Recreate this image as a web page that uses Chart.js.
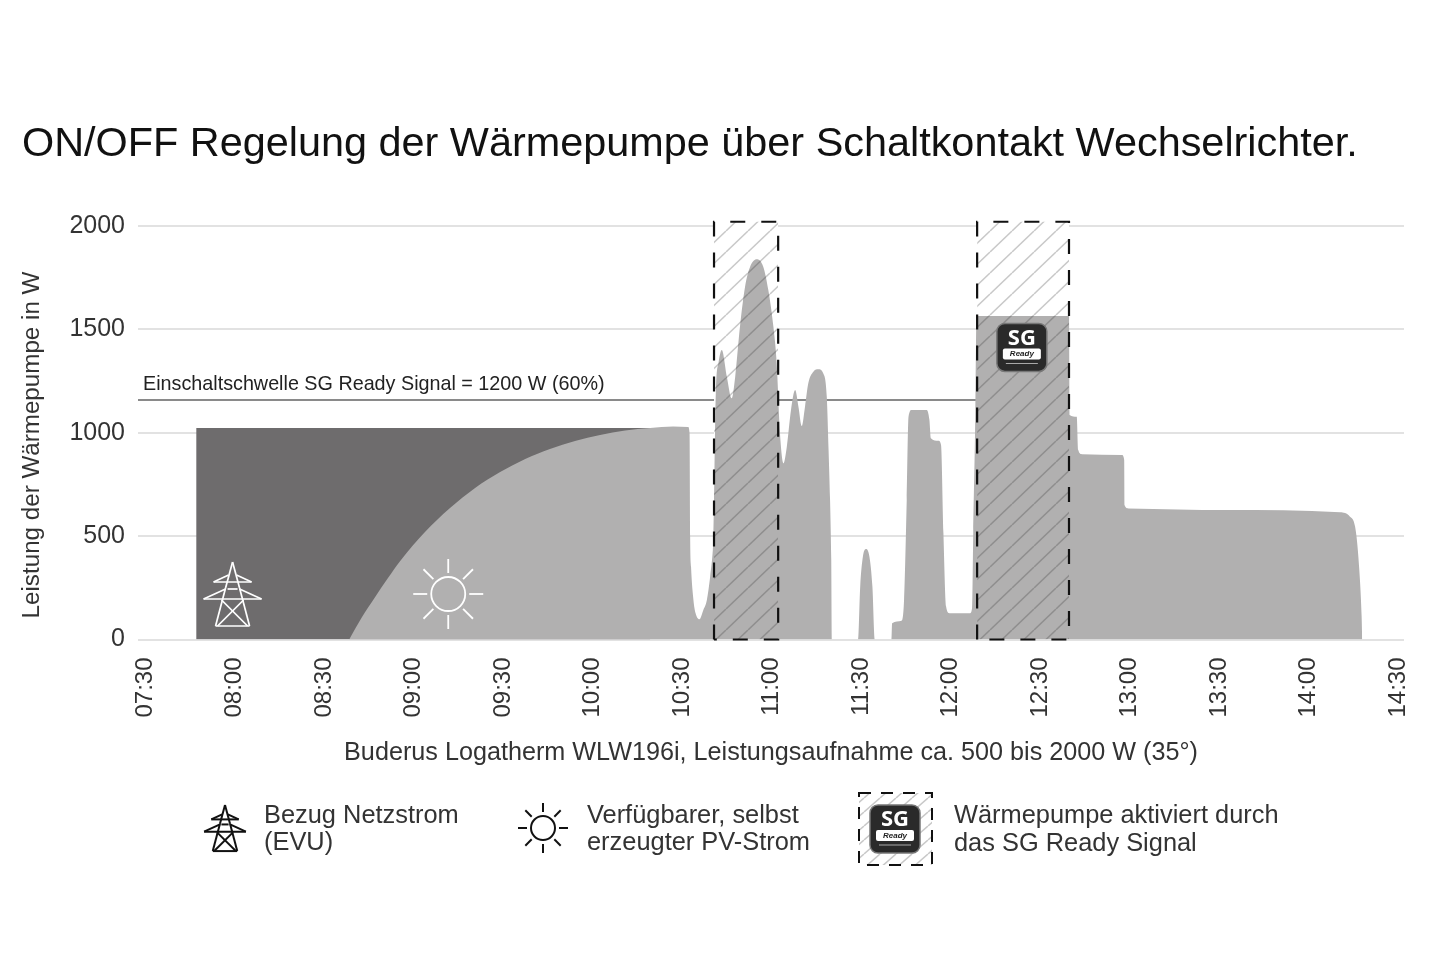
<!DOCTYPE html>
<html>
<head>
<meta charset="utf-8">
<style>
  body { margin: 0; background: #fff; }
</style>
<script src="https://cdn.jsdelivr.net/npm/chart.js@4"></script>
</head>
<body>
<canvas id="heatPumpChart" width="1440" height="960"></canvas>
<script>
// all times are minutes after midnight
const xTickValues = [450, 480, 510, 540, 570, 600, 630, 660, 690, 720, 750, 780, 810, 840, 870];
const xTickLabels = ['07:30', '08:00', '08:30', '09:00', '09:30', '10:00', '10:30', '11:00', '11:30', '12:00', '12:30', '13:00', '13:30', '14:00', '14:30'];
const yTickValues = [0, 500, 1000, 1500, 2000];

const gridTimes = [467.8, 620];
const gridWatts = [1023, 1023];

const powerTimes = [
  519.1, 523.4, 527.8, 532.1, 536.2, 544.5, 552.9, 561.3, 569.7, 578.1, 586.4, 594.8, 603.2,
  611.6, 620, 627.7, 632.7,
  633.2, 633.4, 633.7, 634.5, 635.2, 636.5, 637.8, 639, 640.1, 641, 641.3, 642, 642.9, 644,
  645.7, 647.3, 648.5, 650.1, 651.8, 653.5, 655.7, 657.9, 659.6, 661.3, 662.4, 663.5, 664.7,
  665.8, 667.2, 668.6, 669.7, 670.8, 671.9, 673, 674.7, 676.4, 678, 679.2, 679.8, 680.3,
  680.7, 681, 689.7, 690.4, 691.3, 692.4, 693.5, 694.5, 695.3, 700.9, 701.1, 704.3, 705.1,
  706, 706.6, 707.7, 712.7, 713.6, 714.1, 716.6, 717.5, 718.3, 719.2, 720.3, 727.2, 727.9,
  728.3, 728.9, 729.4, 760.4, 760.6, 763, 763.5, 764.7, 778.1, 778.9, 779, 780.3, 813.3,
  851.3, 854.6, 856.3, 857.4, 858.5, 858.7
];
const powerWatts = [
  0, 109, 206, 297, 380, 520, 636, 733, 810, 873, 921, 960, 989,
  1011, 1023, 1030, 1028,
  999, 496, 351, 191, 128, 98, 142, 191, 304, 433, 515, 1192, 1337, 1400,
  1271, 1166, 1271, 1513, 1706, 1803, 1839, 1803, 1690, 1513, 1337, 999, 852,
  932, 1110, 1207, 1126, 1032, 1126, 1239, 1295, 1307, 1287, 1173, 916, 675,
  384, 0, 0, 255, 400, 438, 400, 255, 0, 0, 78, 91, 191,
  675, 1077, 1110, 1110, 1062, 973, 961, 941, 515, 159, 127, 127, 152,
  515, 999, 1564, 1564, 1086, 1077, 916, 896, 892, 868, 650, 634, 626,
  615, 594, 546, 400, 110, 0
];

const thresholdTimes = [448.3, 729.6];
const thresholdWatts = [1158, 1158];

const sgWindowA = [641.4, 662.9];
const sgWindowB = [729.6, 760.4];
const sgWindowTop = 2020;

const toPoints = (xs, ys) => xs.map((x, i) => ({ x, y: ys[i] }));

function makeHatch(w, h, alpha) {
  const tile = document.createElement('canvas');
  tile.width = w;
  tile.height = h;
  const c = tile.getContext('2d');
  c.strokeStyle = `rgba(50,50,50,${alpha})`;
  c.lineWidth = 1.5;
  [-w, 0, w].forEach(dx => {
    c.beginPath();
    c.moveTo(dx, h);
    c.lineTo(dx + w, 0);
    c.stroke();
  });
  return c.createPattern(tile, 'repeat');
}
const hatch = makeHatch(22, 21, 0.27);
const legendHatch = makeHatch(16, 14, 0.27);

function windowDatasets(win) {
  const outline = [
    { x: win[0], y: 0 }, { x: win[0], y: sgWindowTop },
    { x: win[1], y: sgWindowTop }, { x: win[1], y: 0 }
  ];
  const base = { pointRadius: 0, tension: 0, clip: false };
  return [
    { ...base, data: outline, fill: 'origin', backgroundColor: '#fff', borderWidth: 0, order: 5 },
    { ...base, data: outline, fill: 'origin', backgroundColor: hatch, borderWidth: 0, order: 2 },
    {
      ...base, data: [...outline, outline[0]], fill: false, borderColor: '#111', borderWidth: 2.2,
      borderDash: [15, 16], order: 1
    }
  ];
}

function drawPylon(c, cx, top, k, color, lw) {
  c.save();
  c.translate(cx, top);
  c.scale(k, k);
  c.strokeStyle = color;
  c.lineWidth = lw / k;
  c.lineJoin = 'miter';
  const segs = [
    [0, 0, -7, 26], [0, 0, 7, 26], [-7, 26, -17, 64], [7, 26, 17, 64], [-17, 64, 17, 64],
    [-11, 38, 15, 64], [11, 38, -15, 64], [-19, 20, 19, 20], [-29, 37, 29, 37],
    [-19, 20, -4, 13], [19, 20, 4, 13], [-29, 37, -7, 27], [29, 37, 7, 27], [-5, 27, 5, 27]
  ];
  segs.forEach(s => {
    c.beginPath();
    c.moveTo(s[0], s[1]);
    c.lineTo(s[2], s[3]);
    c.stroke();
  });
  c.restore();
}

function drawSun(c, cx, cy, r, inner, outer, color, lw) {
  c.save();
  c.strokeStyle = color;
  c.lineWidth = lw;
  c.beginPath();
  c.arc(cx, cy, r, 0, Math.PI * 2);
  c.stroke();
  for (let i = 0; i < 8; i++) {
    const a = i * Math.PI / 4;
    c.beginPath();
    c.moveTo(cx + Math.cos(a) * inner, cy + Math.sin(a) * inner);
    c.lineTo(cx + Math.cos(a) * outer, cy + Math.sin(a) * outer);
    c.stroke();
  }
  c.restore();
}

function drawBadge(c, cx, cy) {
  c.save();
  c.fillStyle = '#2a2a2a';
  c.strokeStyle = '#777';
  c.lineWidth = 1.5;
  c.beginPath();
  c.roundRect(cx - 25, cy - 24, 50, 48, 8);
  c.fill();
  c.stroke();
  c.textAlign = 'center';
  c.textBaseline = 'middle';
  c.fillStyle = '#fff';
  c.font = 'bold 22px "Open Sans"';
  c.fillText('SG', cx, cy - 9);
  c.beginPath();
  c.roundRect(cx - 19, cy + 1, 38, 11, 2);
  c.fill();
  c.fillStyle = '#222';
  c.font = 'italic bold 8px "Liberation Sans"';
  c.fillText('Ready', cx, cy + 6.5);
  c.strokeStyle = '#aaa';
  c.lineWidth = 1;
  c.beginPath();
  c.moveTo(cx - 16, cy + 16);
  c.lineTo(cx + 16, cy + 16);
  c.stroke();
  c.restore();
}

const decorations = {
  id: 'decorations',
  afterDatasetsDraw(chart) {
    const c = chart.ctx;
    const x = chart.scales.x;
    const y = chart.scales.y;

    // icons inside the plot
    drawPylon(c, x.getPixelForValue(480), 562, 1, '#fff', 1.7);
    drawSun(c, x.getPixelForValue(552.3), y.getPixelForValue(220), 17, 21, 35, '#fff', 1.8);
    drawBadge(c, x.getPixelForValue(744.6), y.getPixelForValue(1412));

    c.save();
    c.fillStyle = '#222';
    c.textBaseline = 'middle';
    c.textAlign = 'left';
    c.font = '19.75px "Liberation Sans"';
    c.fillText('Einschaltschwelle SG Ready Signal = 1200 W (60%)', 143, 385);

    c.save();
    c.translate(32, 445);
    c.rotate(-Math.PI / 2);
    c.textAlign = 'center';
    c.font = '24.2px "Liberation Sans"';
    c.fillStyle = '#333';
    c.fillText('Leistung der Wärmepumpe in W', 0, 0);
    c.restore();

    // legend row
    drawPylon(c, 225, 805, 0.72, '#111', 2);
    drawSun(c, 543, 828, 12, 16, 25, '#111', 2);
    c.fillStyle = legendHatch;
    c.fillRect(859, 793, 73, 72);
    c.strokeStyle = '#111';
    c.lineWidth = 2;
    c.setLineDash([12, 10]);
    c.strokeRect(859, 793, 73, 72);
    c.setLineDash([]);
    drawBadge(c, 895, 829);

    c.fillStyle = '#333';
    c.font = '25.4px "Liberation Sans"';
    c.fillText('Bezug Netzstrom', 264, 816);
    c.fillText('(EVU)', 264, 843);
    c.fillText('Verfügbarer, selbst', 587, 816);
    c.fillText('erzeugter PV-Strom', 587, 843);
    c.fillText('Wärmepumpe aktiviert durch', 954, 816);
    c.fillText('das SG Ready Signal', 954, 844);
    c.restore();
  }
};

const ctx = document.getElementById('heatPumpChart').getContext('2d');

new Chart(ctx, {
  type: 'line',
  data: {
    datasets: [
      {
        data: toPoints(thresholdTimes, thresholdWatts),
        borderColor: '#8a8a8a',
        borderWidth: 2,
        pointRadius: 0,
        fill: false,
        order: 6
      },
      ...windowDatasets(sgWindowA),
      ...windowDatasets(sgWindowB),
      {
        data: toPoints(gridTimes, gridWatts),
        backgroundColor: '#6e6c6d',
        borderWidth: 0,
        pointRadius: 0,
        fill: 'origin',
        order: 4
      },
      {
        data: toPoints(powerTimes, powerWatts),
        backgroundColor: '#b1b0b0',
        borderWidth: 0,
        pointRadius: 0,
        fill: 'origin',
        cubicInterpolationMode: 'monotone',
        order: 3
      }
    ]
  },
  options: {
    responsive: false,
    animation: false,
    events: [],
    layout: {
      padding: { left: 22, right: 36, top: 120, bottom: 190.5 }
    },
    plugins: {
      legend: { display: false },
      tooltip: { enabled: false },
      title: {
        display: true,
        text: 'ON/OFF Regelung der Wärmepumpe über Schaltkontakt Wechselrichter.',
        align: 'start',
        color: '#111',
        font: { family: 'Liberation Sans', size: 41.4, weight: 'normal' },
        padding: { top: 0, bottom: 50 }
      }
    },
    scales: {
      x: {
        type: 'linear',
        min: 448.3,
        max: 872.7,
        afterBuildTicks: scale => { scale.ticks = xTickValues.map(value => ({ value })); },
        afterFit: scale => { scale.height = 130; },
        grid: { display: false },
        border: { display: false },
        ticks: {
          autoSkip: false,
          minRotation: 90,
          maxRotation: 90,
          padding: 10,
          labelOffset: 2,
          color: '#333',
          font: { family: 'Liberation Sans', size: 24 },
          callback: (value, index) => xTickLabels[index]
        },
        title: {
          display: true,
          text: 'Buderus Logatherm WLW196i, Leistungsaufnahme ca. 500 bis 2000 W (35°)',
          color: '#333',
          font: { family: 'Liberation Sans', size: 25.2 },
          padding: { top: 0, bottom: 1 }
        }
      },
      y: {
        min: 0,
        max: 2030,
        afterBuildTicks: scale => { scale.ticks = yTickValues.map(value => ({ value })); },
        afterFit: scale => { scale.width = 116; },
        grid: { color: '#e2e2e2', lineWidth: 2, drawTicks: false },
        border: { display: false },
        ticks: {
          padding: 13,
          color: '#333',
          font: { family: 'Liberation Sans', size: 25 },
          callback: value => String(value)
        }
      }
    }
  },
  plugins: [decorations]
});
</script>
</body>
</html>
